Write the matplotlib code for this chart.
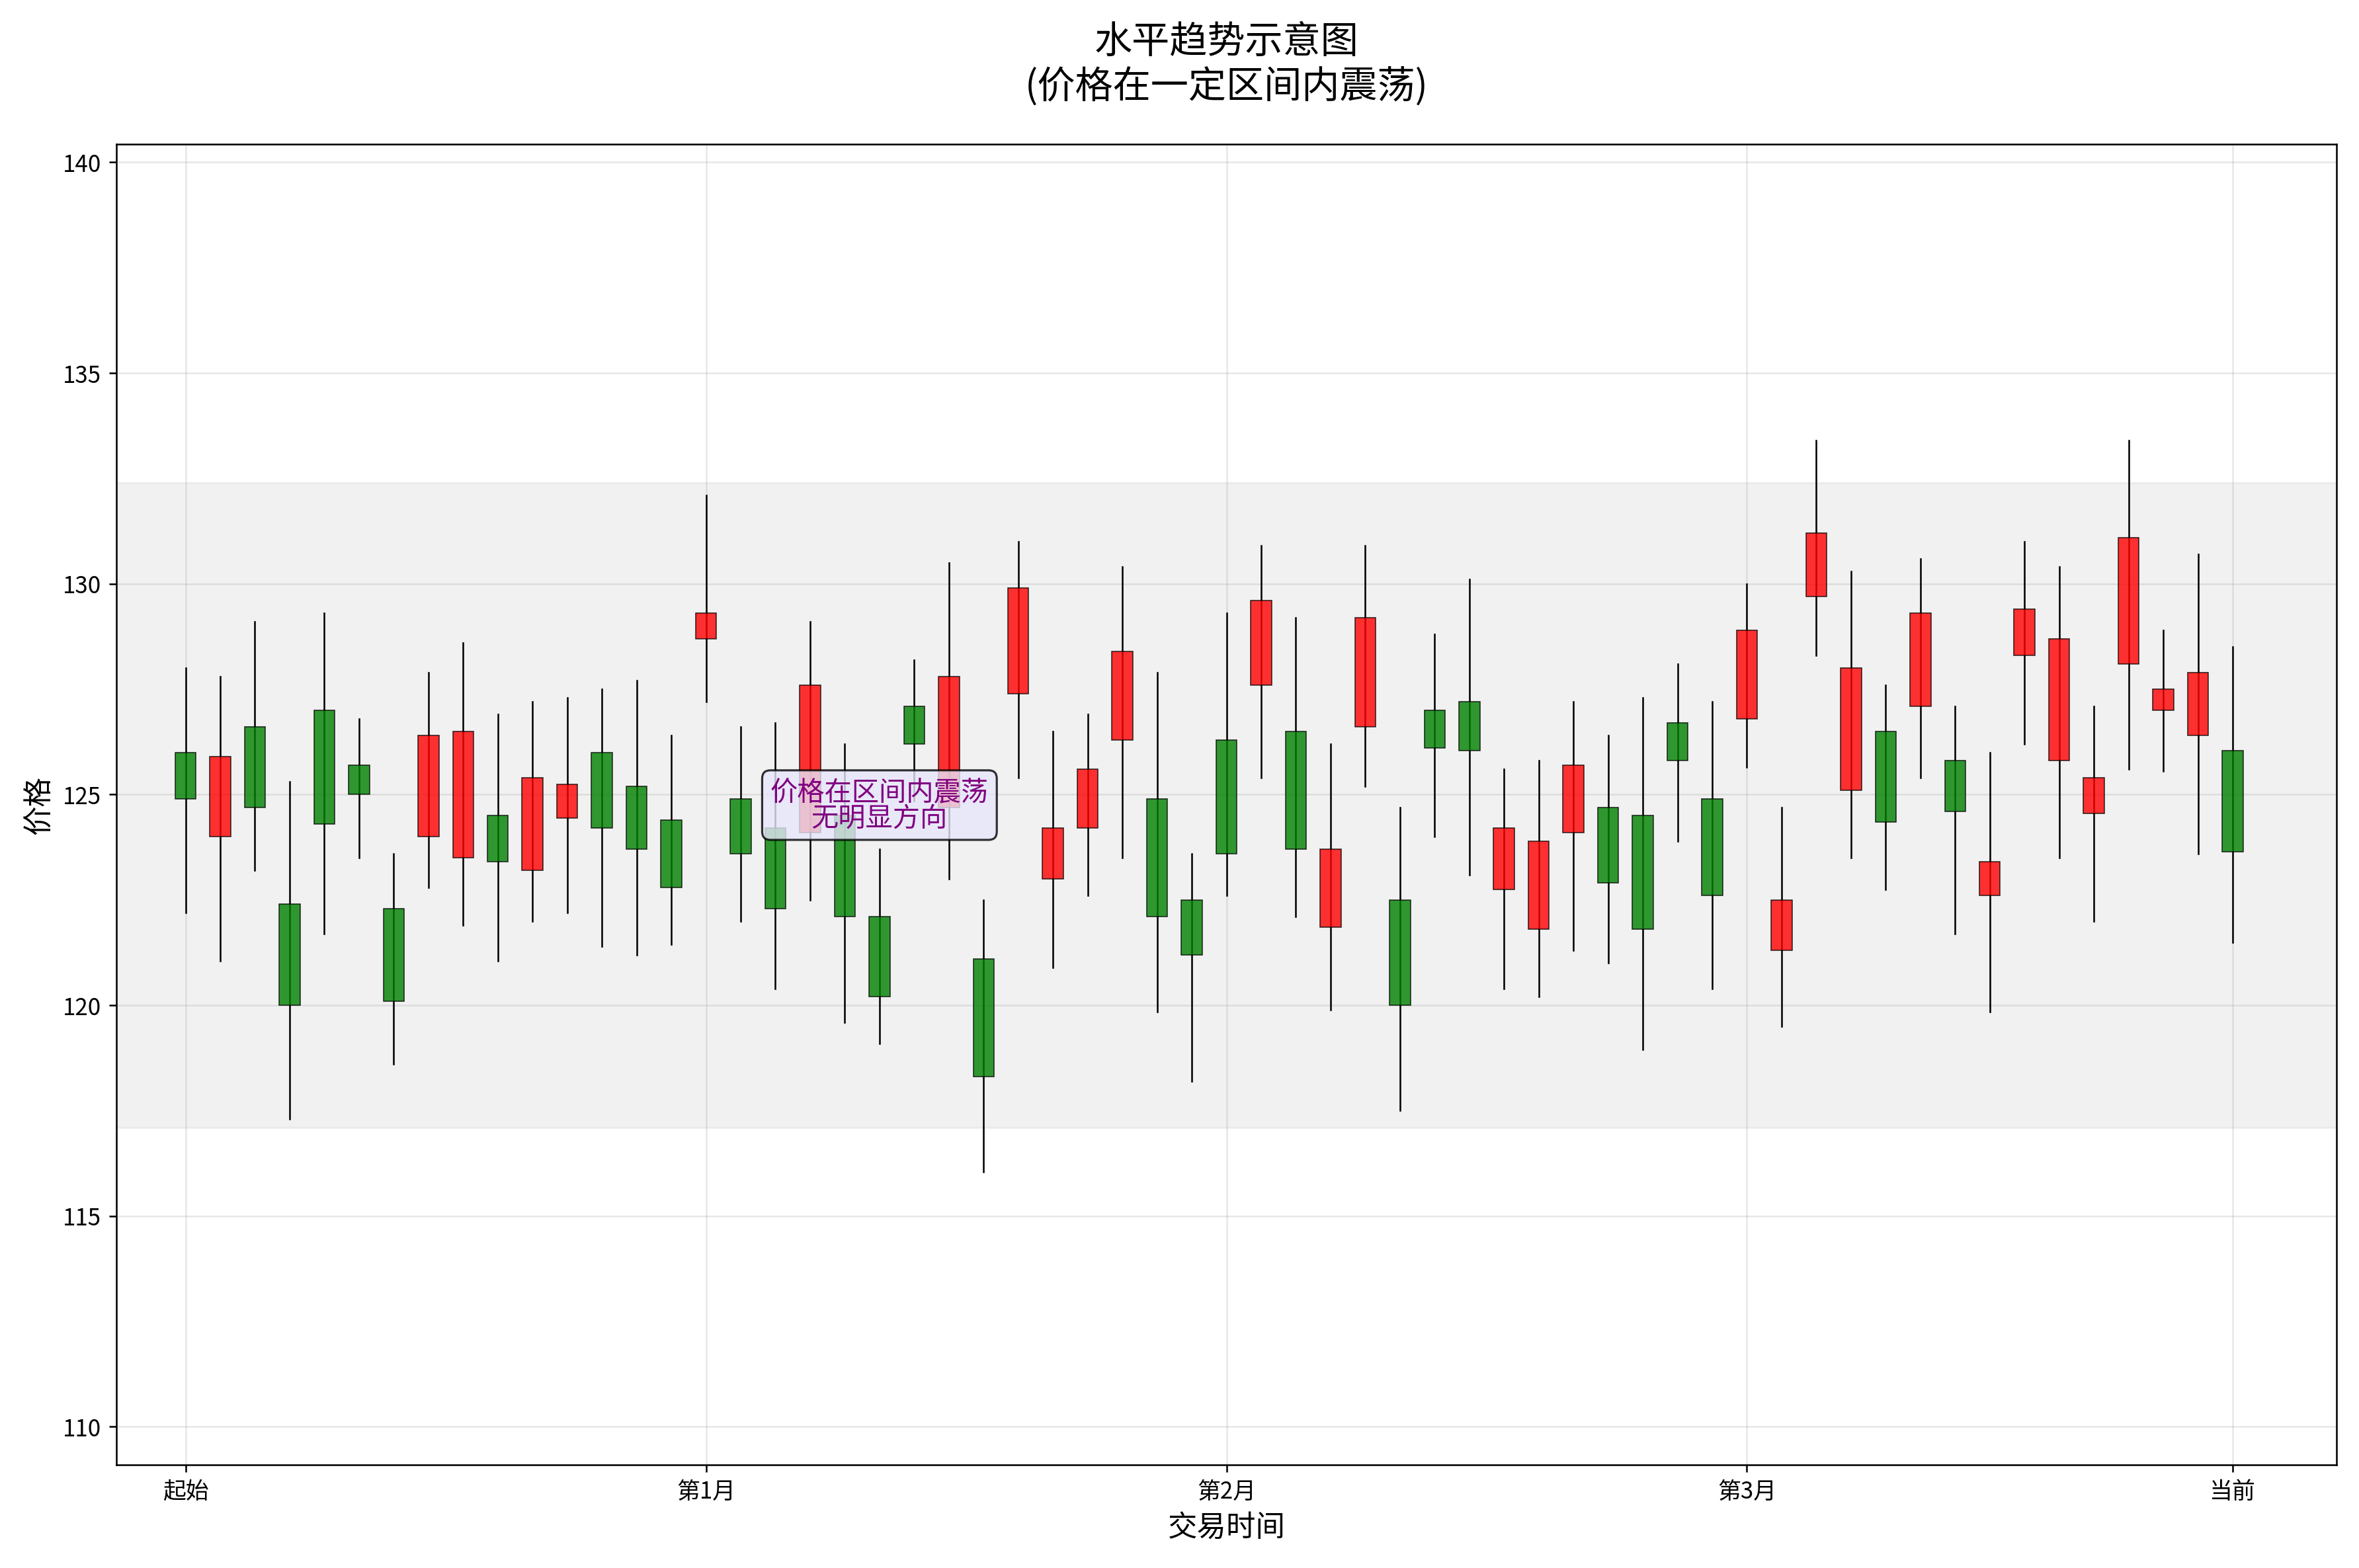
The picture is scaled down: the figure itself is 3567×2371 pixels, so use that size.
import matplotlib
matplotlib.use('Agg')
import matplotlib.pyplot as plt
import numpy as np

plt.rcParams['font.family'] = ['Noto Sans CJK SC', 'DejaVu Sans']
plt.rcParams['axes.unicode_minus'] = False

opens = [126.0, 124.0, 126.6, 122.4, 127.0, 125.7, 122.3, 124.0, 123.5, 124.5,
         123.2, 124.45, 126.0, 125.2, 124.4, 128.7, 124.9, 124.2, 124.1, 124.5,
         122.1, 127.1, 124.7, 121.1, 127.4, 123.0, 124.2, 126.3, 124.9, 122.5,
         126.3, 127.6, 126.5, 121.85, 126.6, 122.5, 127.0, 127.2, 122.75, 121.8,
         124.1, 124.7, 124.5, 126.7, 124.9, 126.8, 121.3, 129.7, 125.1, 126.5,
         127.1, 125.8, 122.6, 128.3, 125.8, 124.55, 128.1, 127.0, 126.4, 126.05]
closes = [124.9, 125.9, 124.7, 120.0, 124.3, 125.0, 120.1, 126.4, 126.5, 123.4,
          125.4, 125.25, 124.2, 123.7, 122.8, 129.3, 123.6, 122.3, 127.6, 122.1,
          120.2, 126.2, 127.8, 118.3, 129.9, 124.2, 125.6, 128.4, 122.1, 121.2,
          123.6, 129.6, 123.7, 123.7, 129.2, 120.0, 126.1, 126.05, 124.2, 123.9,
          125.7, 122.9, 121.8, 125.8, 122.6, 128.9, 122.5, 131.2, 128.0, 124.35,
          129.3, 124.6, 123.4, 129.4, 128.7, 125.4, 131.1, 127.5, 127.9, 123.65]
highs = [128.0, 127.8, 129.1, 125.3, 129.3, 126.8, 123.6, 127.9, 128.6, 126.9,
         127.2, 127.3, 127.5, 127.7, 126.4, 132.1, 126.6, 126.7, 129.1, 126.2,
         123.7, 128.2, 130.5, 122.5, 131.0, 126.5, 126.9, 130.4, 127.9, 123.6,
         129.3, 130.9, 129.2, 126.2, 130.9, 124.7, 128.8, 130.1, 125.6, 125.8,
         127.2, 126.4, 127.3, 128.1, 127.2, 130.0, 124.7, 133.4, 130.3, 127.6,
         130.6, 127.1, 126.0, 131.0, 130.4, 127.1, 133.4, 128.9, 130.7, 128.5]
lows = [122.2, 121.05, 123.2, 117.3, 121.7, 123.5, 118.6, 122.8, 121.9, 121.05,
        122.0, 122.2, 121.4, 121.2, 121.45, 127.2, 122.0, 120.4, 122.5, 119.6,
        119.1, 124.85, 123.0, 116.05, 125.4, 120.9, 122.6, 123.5, 119.85, 118.2,
        122.6, 125.4, 122.1, 119.9, 125.2, 117.5, 124.0, 123.1, 120.4, 120.2,
        121.3, 121.0, 118.95, 123.9, 120.4, 125.65, 119.5, 128.3, 123.5, 122.75,
        125.4, 121.7, 119.85, 126.2, 123.5, 122.0, 125.6, 125.55, 123.6, 121.5]

band_low, band_high = 117.1, 132.4
tick_pos = [0, 15, 30, 45, 59]
tick_labels = ['起始', '第1月', '第2月', '第3月', '当前']

fig, ax = plt.subplots(figsize=(15.6, 10.37))
ax.axhspan(band_low, band_high, color='lightgray', alpha=0.3, zorder=0)

for i, (o, c, h, l) in enumerate(zip(opens, closes, highs, lows)):
    color = 'red' if c >= o else 'green'
    ax.plot([i, i], [l, h], color='black', linewidth=0.8, zorder=2)
    ax.bar(i, abs(c - o), bottom=min(o, c), width=0.6, color=color, alpha=0.8,
           edgecolor='black', linewidth=0.5, zorder=3)

ax.text(20, 124.75, '价格在区间内震荡\n无明显方向', ha='center', va='center',
        fontsize=13, color='purple', zorder=5, linespacing=0.95,
        bbox=dict(boxstyle='round,pad=0.3', facecolor='lavender', alpha=0.8))

ax.set_xlim(-2, 62)
ax.set_ylim(109.1, 140.43)
ax.set_xticks(tick_pos)
ax.set_xticklabels(tick_labels, fontsize=11)
ax.tick_params(axis='y', labelsize=11)
ax.set_xlabel('交易时间', fontsize=14)
ax.set_ylabel('价格', fontsize=14)
ax.set_title('水平趋势示意图\n(价格在一定区间内震荡)', fontsize=18, pad=22)
ax.grid(True, alpha=0.3)

plt.tight_layout()
plt.savefig('out.png', dpi=228.7)
